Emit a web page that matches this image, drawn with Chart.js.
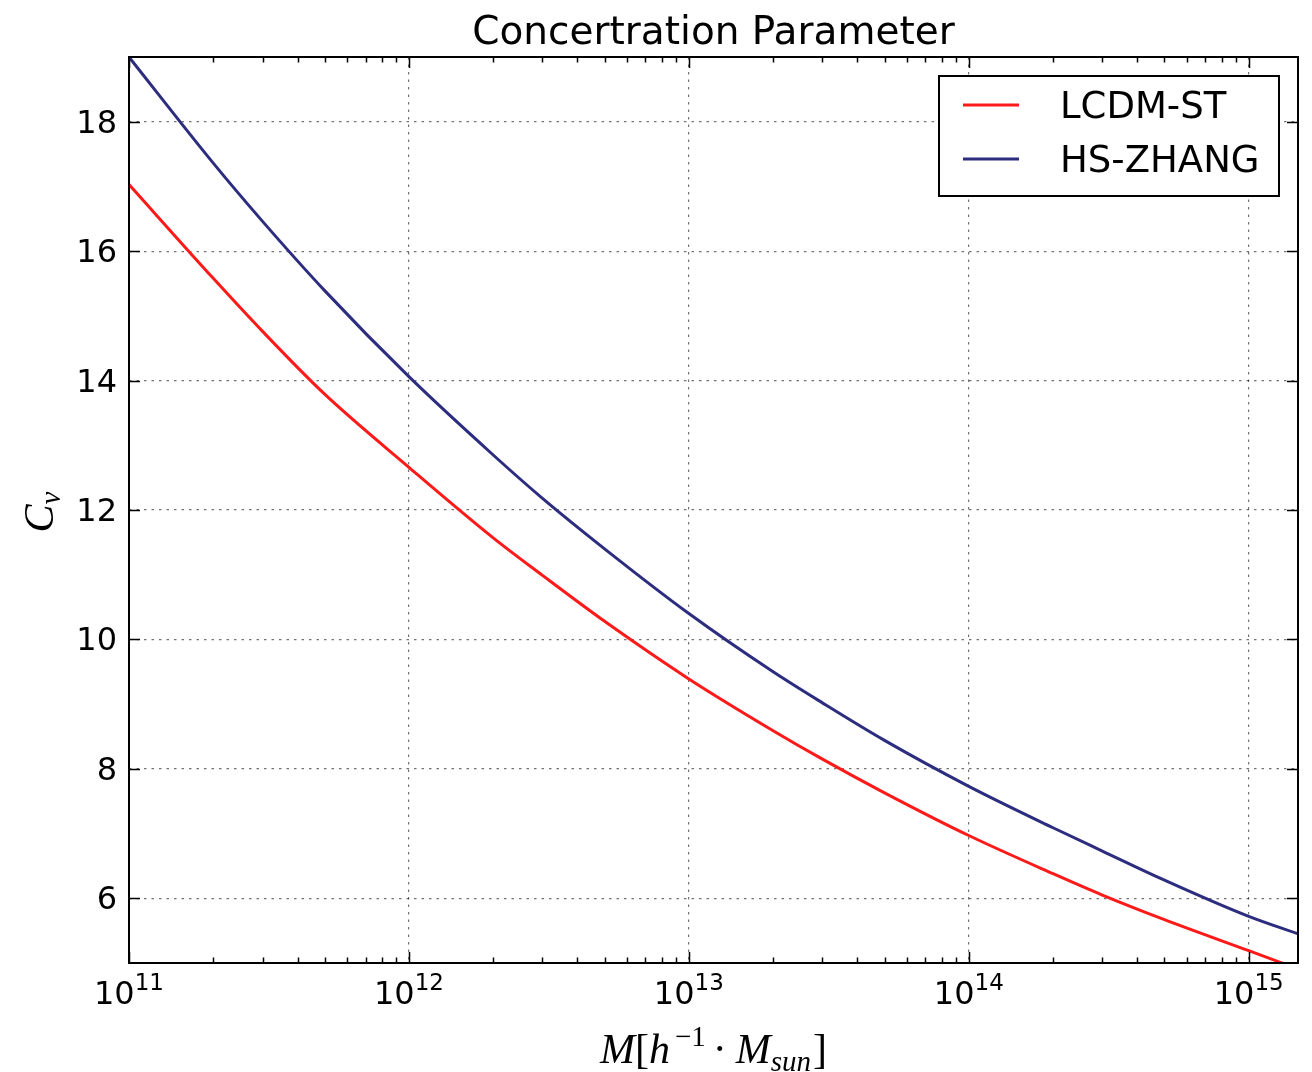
<!DOCTYPE html>
<html>
<head>
<meta charset="utf-8">
<title>Concertration Parameter</title>
<script src="https://cdn.jsdelivr.net/npm/chart.js@4.4.1/dist/chart.umd.min.js"></script>
<style>
  html, body { margin: 0; padding: 0; background: #fff; }
  #wrap { width: 1312px; height: 1072px; }
</style>
</head>
<body>
<div id="wrap"><canvas id="cvChart" width="1312" height="1072"></canvas></div>
<script>
// halo mass (h^-1 M_sun)
const masses = [1e11, 2e11, 3e11, 5e11, 1e12, 2e12, 3e12, 5e12, 1e13, 2e13, 3e13, 5e13, 1e14, 2e14, 3e14, 5e14, 1e15, 1.5e15];
// concentration values
const lcdmSt = [17.03, 15.58, 14.76, 13.79, 12.66, 11.57, 10.99, 10.28, 9.39, 8.59, 8.15, 7.63, 6.97, 6.38, 6.05, 5.67, 5.19, 4.91];
const hsZhang = [19.00, 17.36, 16.46, 15.39, 14.06, 12.85, 12.18, 11.40, 10.40, 9.50, 9.02, 8.44, 7.73, 7.09, 6.73, 6.28, 5.72, 5.45];

const xMajor = [1e11, 1e12, 1e13, 1e14, 1e15];
const yMajor = [6, 8, 10, 12, 14, 16, 18];
const seriesNames = ['LCDM-ST', 'HS-ZHANG'];
const seriesColors = ['#ff1a1a', '#2d2d80'];

const titleText = 'Concertration Parameter';
const sansFont = '"DejaVu Sans", sans-serif';
const mathFont = '"Liberation Serif", "DejaVu Serif", serif';

function toPoints(ys) {
    return masses.map((m, i) => ({ x: m, y: ys[i] }));
}

// draw a row of text pieces with different fonts / vertical shifts
function drawRuns(ctx, runs, x, y, align) {
    let total = 0;
    runs.forEach(r => { ctx.font = r.font; r.w = ctx.measureText(r.t).width + (r.gap || 0); total += r.w; });
    let cx = align === 'center' ? x - total / 2 : x;
    runs.forEach(r => {
        ctx.font = r.font;
        ctx.fillText(r.t, cx, y + (r.dy || 0));
        cx += r.w;
    });
}

const decorPlugin = {
    id: 'decor',
    afterDraw(chart) {
        const ctx = chart.ctx;
        const area = chart.chartArea;
        const xs = chart.scales.x;
        const ys = chart.scales.y;
        ctx.save();
        ctx.fillStyle = '#000';
        ctx.strokeStyle = '#000';

        // inward ticks on all four sides
        ctx.lineWidth = 1.5;
        ctx.beginPath();
        for (let e = 11; e <= 15; e++) {
            for (let k = 1; k <= 9; k++) {
                const v = k * Math.pow(10, e);
                if (v < xs.min || v > xs.max) continue;
                const px = Math.round(xs.getPixelForValue(v)) + 0.5;
                const len = k === 1 ? 11 : 5.5;
                ctx.moveTo(px, area.bottom); ctx.lineTo(px, area.bottom - len);
                ctx.moveTo(px, area.top); ctx.lineTo(px, area.top + len);
            }
        }
        yMajor.forEach(v => {
            const py = Math.round(ys.getPixelForValue(v)) + 0.5;
            ctx.moveTo(area.left, py); ctx.lineTo(area.left + 11, py);
            ctx.moveTo(area.right, py); ctx.lineTo(area.right - 11, py);
        });
        ctx.stroke();

        // frame
        ctx.lineWidth = 2;
        ctx.strokeRect(area.left, area.top, area.right - area.left, area.bottom - area.top);

        // y tick labels
        ctx.font = '32px ' + sansFont;
        ctx.textAlign = 'right';
        ctx.textBaseline = 'alphabetic';
        yMajor.forEach(v => {
            ctx.fillText(String(v), area.left - 12, ys.getPixelForValue(v) + 11);
        });

        // x tick labels 10^n
        ctx.textAlign = 'left';
        xMajor.forEach(v => {
            const exp = Math.round(Math.log10(v));
            drawRuns(ctx, [
                { t: '10', font: '32px ' + sansFont },
                { t: String(exp), font: '23px ' + sansFont, dy: -14 }
            ], xs.getPixelForValue(v), 1004, 'center');
        });

        // title
        ctx.font = '39px ' + sansFont;
        ctx.textAlign = 'center';
        ctx.fillText(titleText, (area.left + area.right) / 2, 44);

        // x axis label  M[h^-1 · M_sun]
        ctx.textAlign = 'left';
        drawRuns(ctx, [
            { t: 'M', font: 'italic 42px ' + mathFont },
            { t: '[', font: '42px ' + mathFont },
            { t: 'h', font: 'italic 42px ' + mathFont, gap: 5 },
            { t: '\u22121', font: '29px ' + mathFont, dy: -17, gap: 7 },
            { t: '\u00b7', font: '42px ' + mathFont, gap: 9 },
            { t: 'M', font: 'italic 42px ' + mathFont },
            { t: 'sun', font: 'italic 29px ' + mathFont, dy: 8, gap: 2 },
            { t: ']', font: '42px ' + mathFont }
        ], (area.left + area.right) / 2, 1063, 'center');

        // y axis label C_v
        ctx.save();
        ctx.translate(53, 512);
        ctx.rotate(-Math.PI / 2);
        drawRuns(ctx, [
            { t: 'C', font: 'italic 42px ' + mathFont },
            { t: 'v', font: 'italic 29px ' + mathFont, dy: 7 }
        ], 0, 0, 'center');
        ctx.restore();

        // legend box
        const lx = 939, ly = 76, lw = 340, lh = 120;
        ctx.fillStyle = '#fff';
        ctx.fillRect(lx, ly, lw, lh);
        ctx.lineWidth = 2;
        ctx.strokeStyle = '#000';
        ctx.strokeRect(lx, ly, lw, lh);
        ctx.font = '37px ' + sansFont;
        ctx.textAlign = 'left';
        chart.data.datasets.forEach((ds, i) => {
            const cy = 105 + i * 54;
            ctx.strokeStyle = ds.borderColor;
            ctx.lineWidth = 3;
            ctx.beginPath();
            ctx.moveTo(963, cy); ctx.lineTo(1019, cy);
            ctx.stroke();
            ctx.fillStyle = '#000';
            ctx.fillText(ds.label, 1060, cy + 13);
        });
        ctx.restore();
    }
};

document.addEventListener('DOMContentLoaded', function () {
    const ctx = document.getElementById('cvChart').getContext('2d');

    new Chart(ctx, {
        type: 'line',
        data: {
            datasets: [
                {
                    label: seriesNames[0],
                    data: toPoints(lcdmSt),
                    borderColor: seriesColors[0],
                    borderWidth: 3,
                    pointRadius: 0,
                    fill: false,
                    cubicInterpolationMode: 'monotone'
                },
                {
                    label: seriesNames[1],
                    data: toPoints(hsZhang),
                    borderColor: seriesColors[1],
                    borderWidth: 3,
                    pointRadius: 0,
                    fill: false,
                    cubicInterpolationMode: 'monotone'
                }
            ]
        },
        options: {
            responsive: false,
            animation: false,
            layout: { padding: { left: 129, right: 14, top: 57, bottom: 109 } },
            plugins: {
                legend: { display: false },
                title: { display: false },
                tooltip: { enabled: false }
            },
            scales: {
                x: {
                    type: 'logarithmic',
                    min: 1e11,
                    max: 1.5e15,
                    afterBuildTicks: scale => { scale.ticks = xMajor.map(v => ({ value: v })); },
                    ticks: { display: false },
                    grid: { color: 'rgba(0,0,0,0.55)', lineWidth: 1.2, drawTicks: false },
                    border: { display: false, dash: [2.5, 5] }
                },
                y: {
                    type: 'linear',
                    min: 5,
                    max: 19,
                    afterBuildTicks: scale => { scale.ticks = yMajor.map(v => ({ value: v })); },
                    ticks: { display: false },
                    grid: { color: 'rgba(0,0,0,0.55)', lineWidth: 1.2, drawTicks: false },
                    border: { display: false, dash: [2.5, 5] }
                }
            }
        },
        plugins: [decorPlugin]
    });
});
</script>
</body>
</html>
